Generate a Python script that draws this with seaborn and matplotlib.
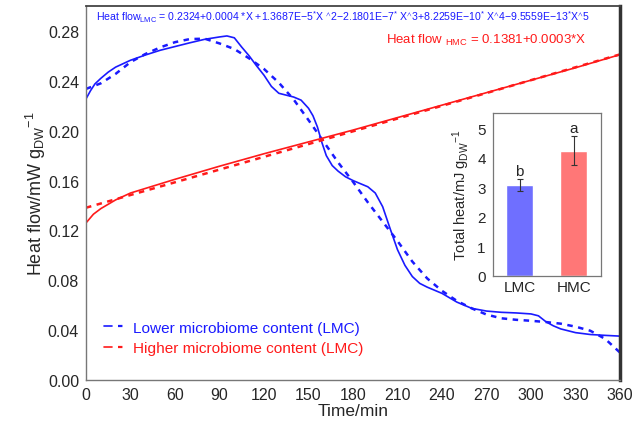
import numpy as np
import pandas as pd
import matplotlib
matplotlib.use("Agg")
import matplotlib.pyplot as plt
import seaborn as sns
from matplotlib.lines import Line2D
from matplotlib.legend_handler import HandlerTuple

# data
lmc_t = [0, 3, 6, 10, 15, 20, 30, 40, 50, 60, 70, 80, 90, 95, 100, 105, 110, 115,
         120, 125, 130, 135, 140, 145, 150, 153, 156, 159, 162, 166, 170, 175, 180,
         185, 190, 195, 200, 205, 210, 215, 220, 225, 230, 240, 250, 260, 270, 280,
         290, 300, 305, 310, 315, 320, 330, 340, 350, 360]
lmc_solid = [0.2255, 0.232, 0.2375, 0.242, 0.247, 0.251, 0.2565, 0.2607, 0.2645,
             0.2675, 0.2705, 0.2733, 0.2752, 0.276, 0.2745, 0.267, 0.260, 0.252,
             0.2445, 0.2355, 0.230, 0.2285, 0.227, 0.2245, 0.218, 0.212, 0.203,
             0.1906, 0.180, 0.172, 0.1675, 0.163, 0.160, 0.1575, 0.155, 0.150,
             0.139, 0.1215, 0.1045, 0.092, 0.083, 0.0775, 0.0745, 0.0695, 0.0625,
             0.0575, 0.0553, 0.0543, 0.0538, 0.053, 0.0515, 0.0468, 0.0435, 0.041,
             0.038, 0.0365, 0.0358, 0.0352]

fit_t = [0, 10, 20, 30, 40, 50, 60, 70, 80, 90, 100, 110, 120, 130, 140, 150, 160,
         170, 180, 190, 200, 210, 220, 230, 240, 250, 260, 270, 280, 290, 300, 310,
         320, 330, 340, 350, 360]
lmc_fit = [0.2335, 0.238, 0.2456, 0.255, 0.2615, 0.2668, 0.271, 0.2735, 0.2738,
           0.270, 0.2655, 0.258, 0.2495, 0.2385, 0.225, 0.2085, 0.1915, 0.1745,
           0.159, 0.1425, 0.127, 0.1115, 0.095, 0.0815, 0.0715, 0.0635, 0.0575,
           0.0525, 0.0495, 0.0483, 0.0475, 0.0465, 0.0452, 0.0428, 0.0395, 0.033,
           0.022]

hmc_t = [0, 5, 10, 15, 20, 30, 45, 60, 90, 120, 150, 180, 210, 240, 270, 300, 330, 360]
hmc_solid = [0.126, 0.133, 0.1375, 0.141, 0.1445, 0.150, 0.1555, 0.161, 0.1715,
             0.1815, 0.191, 0.2005, 0.2105, 0.2205, 0.2305, 0.2405, 0.2505, 0.261]
hmc_fit_t = [0, 90, 180, 270, 360]
hmc_fit = [0.1382, 0.1688, 0.1995, 0.2302, 0.2612]

groups = ["LMC", "HMC"]
total_heat = [3.08, 4.24]
total_err = [0.21, 0.50]
letters = ["b", "a"]

blue = "#1a1aff"
red = "#ff1a1a"

sns.set_style("white")
plt.rcParams["font.family"] = ["Liberation Sans", "DejaVu Sans"]
plt.rcParams["mathtext.fontset"] = "custom"
plt.rcParams["mathtext.rm"] = "Liberation Sans"
plt.rcParams["mathtext.default"] = "regular"

fig = plt.figure(figsize=(6.38, 4.31), dpi=100)
ax = fig.add_axes([0.1348, 0.116, 0.837, 0.8677])

sns.lineplot(x=lmc_t, y=lmc_solid, ax=ax, color=blue, lw=1.2)
sns.lineplot(x=fit_t, y=lmc_fit, ax=ax, color=blue, lw=1.8, linestyle=(0, (2.2, 2.2)))
sns.lineplot(x=hmc_t, y=hmc_solid, ax=ax, color=red, lw=1.2)
sns.lineplot(x=hmc_fit_t, y=hmc_fit, ax=ax, color=red, lw=1.8, linestyle=(0, (2.2, 2.2)))

ax.set_xlim(0, 360)
ax.set_ylim(0, 0.30)
ax.set_xticks(np.arange(0, 361, 30))
ax.set_yticks(np.arange(0, 0.281, 0.04))
ax.set_yticklabels([f"{v:.2f}" for v in np.arange(0, 0.281, 0.04)])
ax.tick_params(axis="x", direction="in", length=3, labelsize=11.5, color="#555555", pad=5)
ax.tick_params(axis="y", direction="out", length=3, labelsize=11.5, color="#555555", pad=2)
ax.set_xlabel("Time/min", fontsize=12.5, labelpad=1)
ax.set_ylabel(r"Heat flow/mW g$_{DW}$$^{-1}$", fontsize=13, labelpad=0)

for s in ["left", "bottom"]:
    ax.spines[s].set_color("#777777")
    ax.spines[s].set_linewidth(1.0)
ax.spines["top"].set_color("#444444")
ax.spines["top"].set_linewidth(1.3)
ax.spines["right"].set_color("#333333")
ax.spines["right"].set_linewidth(2.5)

ax.text(7, 0.2915,
        r"Heat flow$_{LMC}$ = 0.2324+0.0004 *X +1.3687E−5$^{*}$X $^{\wedge}$2−2.1801E−7$^{*}$ X$^{\wedge}$3+8.2259E−10$^{*}$ X$^{\wedge}$4−9.5559E−13$^{*}$X$^{\wedge}$5",
        color=blue, fontsize=7.6, va="center", ha="left")
ax.text(337, 0.2735, r"Heat flow $_{HMC}$ = 0.1381+0.0003*X",
        color=red, fontsize=9.5, va="center", ha="right")

# legend with solid + dashed handles
h1 = (Line2D([], [], color=blue, lw=1.2), Line2D([], [], color=blue, lw=1.6, linestyle=(0, (2, 2))))
h2 = (Line2D([], [], color=red, lw=1.2), Line2D([], [], color=red, lw=1.6, linestyle=(0, (2, 2))))
leg = ax.legend([h1, h2], ["Lower microbiome content (LMC)", "Higher microbiome content (LMC)"],
                handler_map={tuple: HandlerTuple(ndivide=None)},
                loc="lower left", bbox_to_anchor=(0.008, 0.03), frameon=False,
                fontsize=11.1, handlelength=1.4, handletextpad=0.5, labelspacing=0.4)
for txt, c in zip(leg.get_texts(), [blue, red]):
    txt.set_color(c)

# inset bar chart
ins = fig.add_axes([0.7723, 0.358, 0.1693, 0.3768])
bar_df = pd.DataFrame({"group": groups, "heat": total_heat})
sns.barplot(data=bar_df, x="group", y="heat", hue="group", palette=["#6f6fff", "#ff7777"],
            width=0.5, saturation=1, legend=False, ax=ins)
ins.errorbar([0, 1], total_heat, yerr=total_err, fmt="none", ecolor="#333333",
             elinewidth=0.8, capsize=2, capthick=0.8)
for i, (v, e, l) in enumerate(zip(total_heat, total_err, letters)):
    ins.text(i, v + e + 0.02, l, ha="center", va="bottom", fontsize=11)
ins.set_xlim(-0.5, 1.5)
ins.set_ylim(0, 5.5)
ins.set_yticks(range(6))
ins.set_xlabel("")
ins.set_ylabel(r"Total heat/mJ g$_{DW}$$^{-1}$", fontsize=10.5, labelpad=4)
ins.tick_params(axis="y", direction="out", length=3, labelsize=11, color="#555555", pad=2)
ins.tick_params(axis="x", length=0, labelsize=11, pad=3)
ins.set_xticks([0.5], minor=True)
ins.tick_params(axis="x", which="minor", direction="in", length=3, color="#555555")
for s in ins.spines.values():
    s.set_color("#777777")
    s.set_linewidth(0.9)

fig.savefig("out.png", dpi=100)
